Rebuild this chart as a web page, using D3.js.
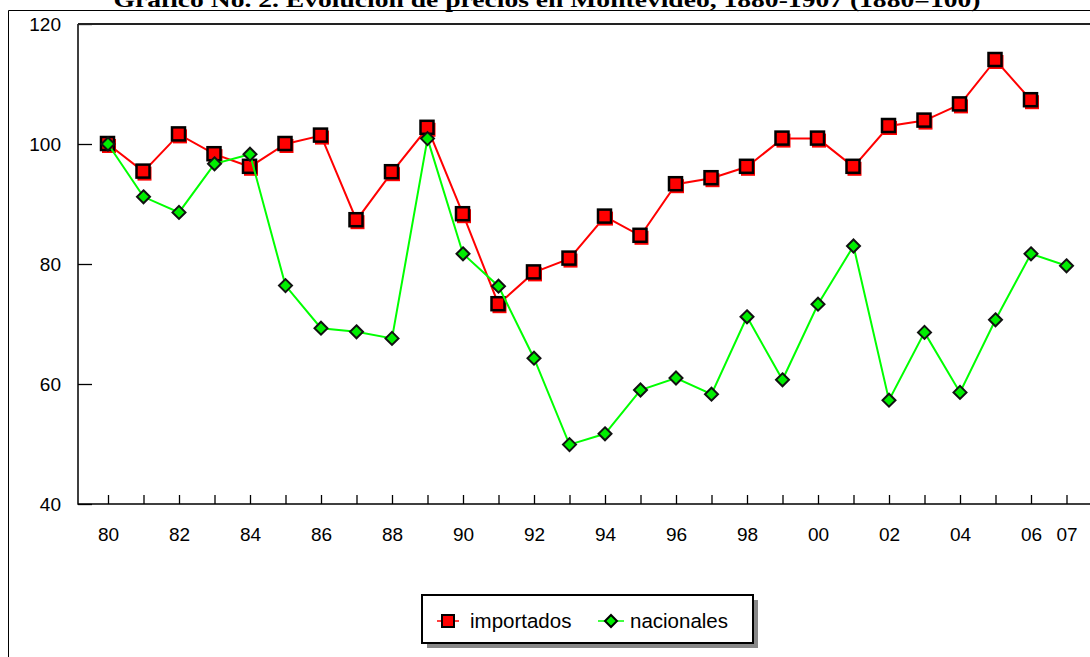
<!DOCTYPE html>
<html>
<head>
<meta charset="utf-8">
<script src="https://cdn.jsdelivr.net/npm/d3@7"></script>
<style>
  body { margin: 0; background: #fff; }
  svg { display: block; }
</style>
</head>
<body>
<div id="root"></div>
<script>
// años 1880-1907
var years = d3.range(1880, 1908)
// índices de precios (1880=100)
var importados = [100, 95.4, 101.6, 98.3, 96.2, 100, 101.4, 87.3, 95.3, 102.7,
    88.3, 73.3, 78.6, 80.9, 87.9, 84.7, 93.3, 94.3, 96.2, 100.9,
    100.9, 96.2, 103, 103.9, 106.6, 114, 107.3, null]
var nacionales = [100, 91.2, 88.6, 96.7, 98.3, 76.4, 69.3, 68.7, 67.6, 100.9,
    81.7, 76.3, 64.3, 49.9, 51.7, 59, 61, 58.3, 71.2, 60.7,
    73.3, 83, 57.3, 68.6, 58.6, 70.7, 81.7, 79.7]
var yTicks = [40, 60, 80, 100, 120]
var seriesNames = ['importados', 'nacionales']
var title = 'Gráfico No. 2. Evolución de precios en Montevideo, 1880-1907 (1880=100)'

var width = 1090, height = 657
var svg = d3.select('#root').append('svg')
    .attr('width', width)
    .attr('height', height)

var plotLeft = 78, plotTop = 24, plotBottom = 504
var X = d3.scaleLinear().domain([1880, 1907]).range([108, 1066.5])
var Y = d3.scaleLinear().domain([40, 120]).range([plotBottom, plotTop])

// marco exterior
svg.append('path')
    .attr('d', 'M8.5,' + height + 'V10.5H' + width)
    .attr('fill', 'none').attr('stroke', '#000').attr('stroke-width', 1)

// título
svg.append('text')
    .attr('x', 547).attr('y', 7)
    .attr('text-anchor', 'middle')
    .attr('textLength', 867).attr('lengthAdjust', 'spacingAndGlyphs')
    .style('font-family', '"Liberation Serif", "Times New Roman", serif')
    .style('font-weight', 'bold')
    .style('font-size', '21px')
    .text(title)

// ejes
var yAxisG = svg.append('g')
    .attr('transform', 'translate(' + plotLeft + ',0)')
    .call(d3.axisLeft(Y).tickValues(yTicks).tickSizeInner(-14).tickSizeOuter(0).tickPadding(17))
var xAxisG = svg.append('g')
    .attr('transform', 'translate(0,' + plotBottom + ')')
    .call(d3.axisBottom(X).tickValues(years).tickSizeInner(-9).tickSizeOuter(0).tickPadding(24)
        .tickFormat(function (d) {
            return (d % 2 === 0 || d === 1907) ? String(d % 100).padStart(2, '0') : ''
        }))
yAxisG.select('.domain').remove()
xAxisG.select('.domain').remove()
svg.selectAll('.tick line').attr('stroke', '#000').attr('stroke-width', 1.3)
svg.selectAll('.tick text')
    .style('font-family', '"Liberation Sans", Arial, sans-serif')
    .style('font-size', '19px')
    .attr('fill', '#000')

svg.append('path')
    .attr('d', 'M' + plotLeft + ',' + plotTop + 'V' + plotBottom + 'H' + width)
    .attr('fill', 'none').attr('stroke', '#000').attr('stroke-width', 1.5)
svg.append('line')
    .attr('x1', plotLeft).attr('x2', width).attr('y1', plotTop).attr('y2', plotTop)
    .attr('stroke', '#222').attr('stroke-width', 2.2)

// series
var lineGen = d3.line()
    .x(function (d) { return X(d.year) })
    .y(function (d) { return Y(d.v) })

function toPts(arr) {
    return years.map(function (yr, i) { return { year: yr, v: arr[i] } })
        .filter(function (d) { return d.v != null })
}
var impPts = toPts(importados)
var nacPts = toPts(nacionales)
var diamond = 'M0,-6.5L6.5,0L0,6.5L-6.5,0Z'

var gImp = svg.append('g')
gImp.append('path').datum(impPts)
    .attr('d', lineGen)
    .attr('fill', 'none').attr('stroke', '#ff0000').attr('stroke-width', 2)
gImp.selectAll('rect.sh').data(impPts).enter().append('rect')
    .attr('class', 'sh')
    .attr('x', function (d) { return X(d.year) - 6 }).attr('y', function (d) { return Y(d.v) - 5 })
    .attr('width', 14).attr('height', 14).attr('fill', '#ff0000')
gImp.selectAll('rect.mk').data(impPts).enter().append('rect')
    .attr('class', 'mk')
    .attr('x', function (d) { return X(d.year) - 7 }).attr('y', function (d) { return Y(d.v) - 7 })
    .attr('width', 13).attr('height', 13)
    .attr('fill', '#ff0000').attr('stroke', '#000').attr('stroke-width', 2.5)

var gNac = svg.append('g')
gNac.append('path').datum(nacPts)
    .attr('d', lineGen)
    .attr('fill', 'none').attr('stroke', '#00ff00').attr('stroke-width', 2)
gNac.selectAll('path.mk').data(nacPts).enter().append('path')
    .attr('class', 'mk')
    .attr('transform', function (d) { return 'translate(' + X(d.year) + ',' + Y(d.v) + ')' })
    .attr('d', diamond)
    .attr('fill', '#00ee00').attr('stroke', '#111').attr('stroke-width', 2)

// leyenda
var leg = svg.append('g')
leg.append('rect').attr('x', 427).attr('y', 600).attr('width', 331).attr('height', 48).attr('fill', '#888')
leg.append('rect').attr('x', 422).attr('y', 595).attr('width', 331).attr('height', 48)
    .attr('fill', '#fff').attr('stroke', '#000').attr('stroke-width', 2)
var ly = 621
leg.append('line').attr('x1', 437).attr('x2', 459).attr('y1', ly).attr('y2', ly)
    .attr('stroke', '#ff0000').attr('stroke-width', 1.5)
leg.append('rect').attr('x', 442).attr('y', ly - 6).attr('width', 12).attr('height', 12)
    .attr('fill', '#ff0000').attr('stroke', '#000').attr('stroke-width', 2)
leg.append('line').attr('x1', 598).attr('x2', 624).attr('y1', ly).attr('y2', ly)
    .attr('stroke', '#00ff00').attr('stroke-width', 1.5)
leg.append('path').attr('transform', 'translate(611,' + ly + ')')
    .attr('d', 'M0,-6L6,0L0,6L-6,0Z')
    .attr('fill', '#00ee00').attr('stroke', '#000').attr('stroke-width', 2)
leg.selectAll('text.lt').data(seriesNames).enter().append('text')
    .attr('class', 'lt')
    .attr('x', function (d, i) { return i === 0 ? 470 : 630 })
    .attr('y', ly + 7)
    .style('font-family', '"Liberation Sans", Arial, sans-serif')
    .style('font-size', '20.5px')
    .text(function (d) { return d })
</script>
</body>
</html>
